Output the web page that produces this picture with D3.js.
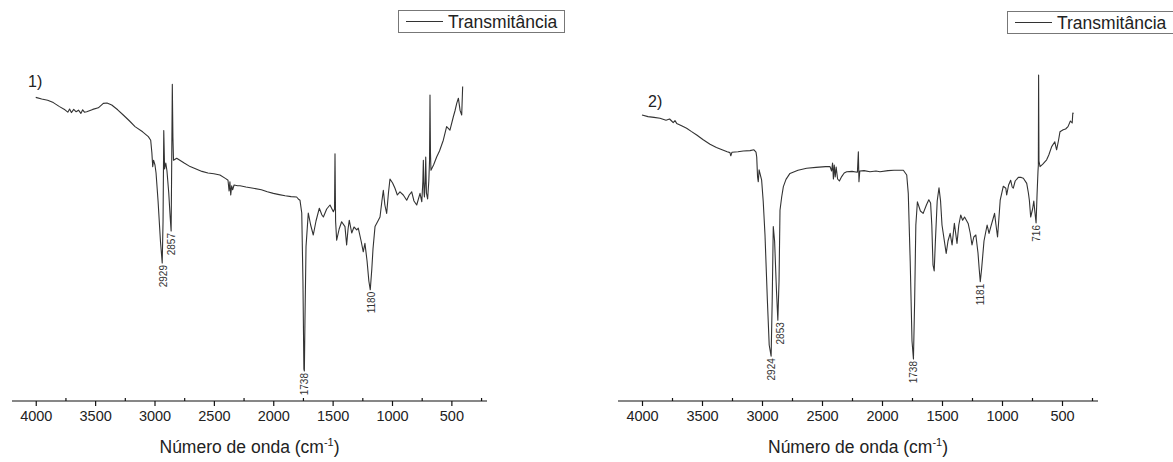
<!DOCTYPE html>
<html>
<head>
<meta charset="utf-8">
<script src="https://cdn.jsdelivr.net/npm/d3@7"></script>
<style>
  html, body { margin: 0; padding: 0; background: #fff; }
  svg { display: block; font-family: "Liberation Sans", Arial, sans-serif; }
</style>
</head>
<body>
<div id="chart"></div>
<script>
// espectros FTIR: [número de onda (cm-1), transmitância (u.a.)]
const spectrum1 = [
  [4000,75.9],[3950,75.5],[3900,75.2],[3852,74.6],[3800,73.6],[3754,72.8],[3730,72.2],[3715,73.0],
  [3700,72.1],[3680,72.9],[3660,72.3],[3640,72.7],[3620,71.9],[3605,72.8],[3590,72.2],[3571,72.3],
  [3520,72.9],[3473,73.3],[3431,74.4],[3400,74.5],[3360,74.0],[3310,72.8],[3263,71.5],[3210,70.0],
  [3164,68.6],[3100,67.3],[3052,66.1],[3032,65.2],[3022,62],[3015,58.6],[3008,60.2],[2996,59],
  [2987,57],[2970,50],[2950,40],[2935,34.5],[2928,45],[2922,67.6],[2915,58],[2905,59.5],[2895,57.5],
  [2880,52],[2868,46],[2860,42.5],[2855,60],[2850,79.2],[2845,66],[2840,60.2],[2813,60.7],[2750,59.5],
  [2700,58.6],[2650,58],[2600,57.4],[2550,57],[2500,56.8],[2449,56.5],[2400,55.6],[2381,55.2],
  [2372,52.5],[2365,54.8],[2358,51.5],[2350,53.8],[2342,52.8],[2330,54],[2300,53.8],[2280,53.8],
  [2230,53.5],[2168,53.2],[2100,52.8],[2050,52.3],[1999,51.9],[1950,51.6],[1900,51.3],[1850,51.1],
  [1803,51.0],[1789,50.5],[1775,50.2],[1760,47],[1750,30],[1742,8],[1738,7.5],[1733,20],[1724,38.6],
  [1705,47],[1685,44],[1663,41.5],[1640,45],[1612,48.2],[1590,46.5],[1578,46],[1550,48],[1522,49],
  [1494,47.3],[1484,48],[1480,61.8],[1475,45],[1466,40.2],[1445,43],[1424,44.8],[1396,43.6],
  [1382,39],[1370,43],[1360,45.2],[1339,42],[1320,43.5],[1297,42.8],[1284,43.2],[1260,40],
  [1242,37.3],[1228,39.4],[1210,35],[1195,30],[1183,27.8],[1170,33],[1160,38],[1143,43.6],
  [1115,45.2],[1101,46],[1085,50],[1073,52.7],[1060,49],[1045,46.9],[1030,52],[1017,55.5],
  [995,54.5],[975,53.2],[955,51.5],[933,52.3],[905,51.5],[876,50.2],[855,51.5],[834,52.3],
  [815,50],[792,49],[764,51.9],[749,49.8],[740,55],[736,60.2],[730,52],[727,51],[720,55],[716,61],
  [710,52],[700,50.5],[690,55],[684,60],[680,76.5],[676,62],[672,57.7],[650,59],[624,61],[600,62.5],
  [568,65.2],[540,68.6],[512,67.7],[484,71],[470,72.5],[455,74.4],[441,75.7],[427,72.7],[413,71.5],
  [405,78.6]
];

const spectrum2 = [
  [4000,71.5],[3950,71.1],[3900,70.9],[3850,70.7],[3800,70.2],[3770,70.5],[3753,70],[3740,69.6],
  [3725,70.1],[3711,69.4],[3670,68.8],[3628,68.2],[3590,67.4],[3544,66.5],[3490,65.3],[3433,64.2],
  [3380,63.4],[3322,62.7],[3290,62.3],[3267,62.1],[3260,61.3],[3250,62.2],[3200,62.3],[3156,62.5],
  [3100,62.6],[3067,62.8],[3050,62.2],[3044,61],[3037,56],[3031,54.8],[3024,57.8],[3017,56.9],
  [3003,55.2],[2990,50],[2975,41.5],[2955,25],[2940,14],[2924,11.2],[2915,25],[2906,43.6],
  [2895,40],[2880,28],[2868,20.2],[2858,30],[2850,47.7],[2836,51],[2822,53.6],[2800,55.4],
  [2767,56.9],[2700,57.7],[2628,58.2],[2550,58.4],[2470,58.6],[2433,58.6],[2420,57.5],[2412,59.5],
  [2405,55.5],[2398,59],[2390,56],[2382,58.5],[2370,55.5],[2355,55],[2336,56.1],[2315,57],
  [2294,57.3],[2250,57.4],[2205,57.2],[2197,62.3],[2192,54.8],[2185,57.5],[2150,57.6],[2100,57.3],
  [2050,57.5],[2017,57.3],[1950,57.6],[1900,57.7],[1850,57.7],[1822,57.7],[1794,56.5],[1781,51.9],
  [1765,35],[1750,15],[1738,10.5],[1728,25],[1718,44],[1705,49.8],[1680,47.5],[1657,46.9],
  [1630,49],[1610,50.3],[1595,49.5],[1585,44],[1575,34],[1565,32.5],[1555,40],[1540,50],
  [1525,53.3],[1512,50],[1500,44],[1465,36.9],[1450,40],[1432,41.9],[1416,39],[1397,44.4],
  [1375,39.4],[1360,44],[1344,46.5],[1328,45.2],[1312,46],[1282,44.4],[1265,42],[1250,39],
  [1235,41],[1218,41.5],[1200,37],[1190,33],[1181,29.8],[1170,33],[1150,40],[1124,44],
  [1108,41.9],[1093,43.6],[1075,45.5],[1062,46.9],[1050,44],[1037,41],[1025,46],[1015,50.2],
  [989,53.7],[968,53.2],[961,51.5],[945,54],[928,55.2],[915,53.5],[906,53.2],[890,55],[864,55.9],
  [840,55.9],[822,55.7],[794,54.4],[780,52],[772,50.2],[761,46],[745,48],[735,50],[725,47],
  [716,44.5],[708,51.5],[700,57.5],[697,59],[695,81.5],[692,60],[683,58.6],[660,59.2],[628,60.3],
  [610,61.5],[586,63.6],[560,64.8],[545,62.8],[530,65],[517,67.3],[490,67.8],[470,68],[450,68.6],
  [430,70],[415,69.5],[410,72],[403,71.9]
];

// picos marcados: [número de onda, transmitância no mínimo]
const peaks1 = [[2929, 34.5], [2857, 42.5], [1738, 7.5], [1180, 27.8]];
const peaks2 = [[2924, 11.2], [2853, 20.2], [1738, 10.5], [1181, 29.8], [716, 44.5]];

const majorTicks = [4000, 3500, 3000, 2500, 2000, 1500, 1000, 500];
const minorTicks = [3750, 3250, 2750, 2250, 1750, 1250, 750, 250];

const xDomain = [4200, 200];
const yDomain = [0, 85];

const W = 1173, H = 462;
const AXIS_Y = 401, TOP_Y = 61;
const FONT = '"Liberation Sans", Arial, sans-serif';

const panels = [
  { data: spectrum1, peaks: peaks1, tag: '1)', tagX: 28, tagY: 87,
    range: [12, 487], legend: { x: 398, y: 10, w: 166 } },
  { data: spectrum2, peaks: peaks2, tag: '2)', tagX: 648, tagY: 107,
    range: [618, 1098], legend: { x: 1007, y: 11, w: 166 } }
];

const svg = d3.select('#chart').append('svg')
  .attr('width', W)
  .attr('height', H)
  .attr('viewBox', `0 0 ${W} ${H}`);

const y = d3.scaleLinear().domain(yDomain).range([AXIS_Y, TOP_Y]);

for (const p of panels) {
  const x = d3.scaleLinear().domain(xDomain).range(p.range);
  const g = svg.append('g');

  // eixo x: traços maiores para baixo, menores para cima
  g.append('g')
    .attr('transform', `translate(0,${AXIS_Y})`)
    .call(d3.axisBottom(x).tickValues(majorTicks).tickSize(5).tickPadding(5).tickFormat(d3.format('d')))
    .call((ax) => ax.select('.domain').attr('stroke', '#111').attr('stroke-width', 1.2)
      .attr('d', `M${p.range[0]},0H${p.range[1]}`))
    .call((ax) => ax.selectAll('line').attr('stroke', '#111').attr('stroke-width', 1.2))
    .call((ax) => ax.selectAll('text').attr('fill', '#222')
      .style('font-size', '14.5px').style('font-family', FONT));

  g.append('g')
    .attr('transform', `translate(0,${AXIS_Y})`)
    .call(d3.axisBottom(x).tickValues(minorTicks).tickSize(-3).tickFormat(''))
    .call((ax) => ax.select('.domain').remove())
    .call((ax) => ax.selectAll('line').attr('stroke', '#111').attr('stroke-width', 1.2));

  const cx = (p.range[0] + p.range[1]) / 2;
  const title = g.append('text')
    .attr('x', cx)
    .attr('y', 453)
    .attr('text-anchor', 'middle')
    .attr('fill', '#222')
    .style('font-size', '17.5px');
  title.append('tspan').text('Número de onda (cm');
  title.append('tspan').attr('dy', -7).style('font-size', '11px').text('-1');
  title.append('tspan').attr('dy', 7).text(')');

  const line = d3.line()
    .x((d) => x(d[0]))
    .y((d) => y(d[1]));

  g.append('path')
    .datum(p.data)
    .attr('d', line)
    .attr('fill', 'none')
    .attr('stroke', '#333')
    .attr('stroke-width', 1.1)
    .attr('stroke-linejoin', 'round');

  g.selectAll('.peak')
    .data(p.peaks)
    .enter()
    .append('text')
    .attr('class', 'peak')
    .attr('transform', (d) => `translate(${x(d[0]) + 4},${y(d[1]) + 2}) rotate(-90)`)
    .attr('text-anchor', 'end')
    .attr('fill', '#333')
    .style('font-size', '10px')
    .text((d) => d[0]);

  g.append('text')
    .attr('x', p.tagX)
    .attr('y', p.tagY)
    .attr('fill', '#222')
    .style('font-size', '16px')
    .text(p.tag);

  const lg = g.append('g').attr('transform', `translate(${p.legend.x},${p.legend.y})`);
  lg.append('rect')
    .attr('x', 0.5).attr('y', 0.5)
    .attr('width', p.legend.w).attr('height', 22)
    .attr('fill', '#fff')
    .attr('stroke', '#777')
    .attr('stroke-width', 1);
  lg.append('line')
    .attr('x1', 8).attr('x2', 45)
    .attr('y1', 11.5).attr('y2', 11.5)
    .attr('stroke', '#333')
    .attr('stroke-width', 1);
  lg.append('text')
    .attr('x', 50)
    .attr('y', 18)
    .attr('fill', '#222')
    .style('font-size', '17.5px')
    .text('Transmitância');
}
</script>
</body>
</html>
